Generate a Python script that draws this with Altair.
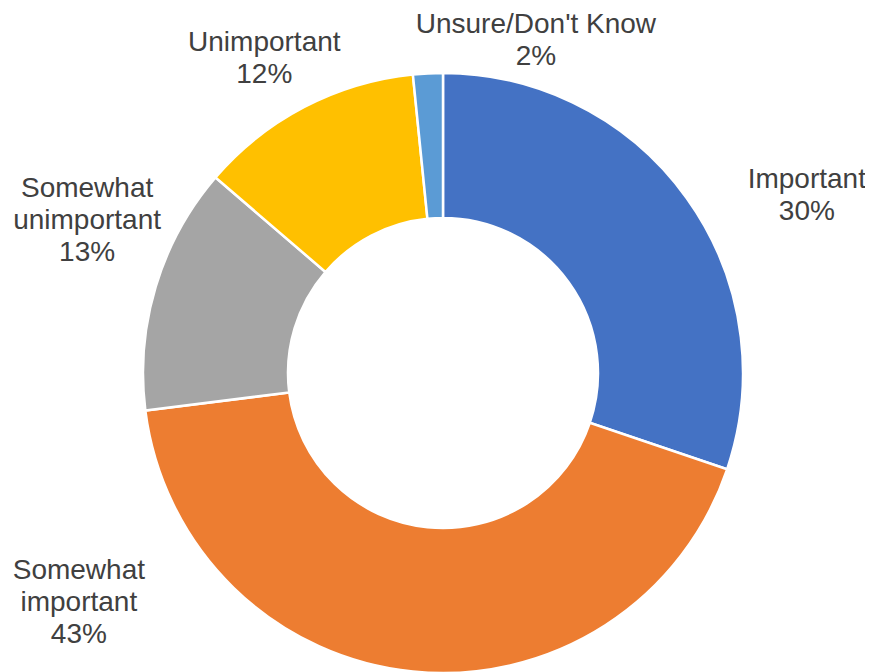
import altair as alt
import pandas as pd

# Data
categories = ["Important", "Somewhat important", "Somewhat unimportant",
              "Unimportant", "Unsure/Don't Know"]
shares = [30.2, 42.8, 13.3, 12.1, 1.6]
label_names = ["Important", "Somewhat\nimportant", "Somewhat\nunimportant",
               "Unimportant", "Unsure/Don't Know"]
label_pcts = ["30%", "43%", "13%", "12%", "2%"]
colors = ["#4472C4", "#ED7D31", "#A5A5A5", "#FFC000", "#5B9BD5"]

# label nudges (px) away from the slice-midpoint anchor, like Excel's best-fit labels
nudge_x = [55, -326, 8, -3, 112]
nudge_y = [28, -180, -75, 7, 32]

df = pd.DataFrame({
    "category": categories,
    "share": shares,
    "order": list(range(len(categories))),
    "label": [f"{n}\n{p}" for n, p in zip(label_names, label_pcts)],
    "nx": nudge_x,
    "ny": nudge_y,
})

CX, CY = 435, 365

base = alt.Chart(df).encode(
    theta=alt.Theta("share:Q", stack=True),
    order=alt.Order("order:Q"),
)

arc = base.mark_arc(
    outerRadius=300, innerRadius=155, stroke="white", strokeWidth=2.5
).encode(
    color=alt.Color("category:N",
                    scale=alt.Scale(domain=categories, range=colors),
                    legend=None),
    x=alt.value(CX),
    y=alt.value(CY),
)

text = base.mark_text(
    radius=380,
    fontSize=28,
    font="Liberation Sans",
    color="#404040",
    lineBreak="\n",
    lineHeight=32,
    align="center",
    baseline="middle",
    dx=alt.ExprRef(expr="datum.nx"),
    dy=alt.ExprRef(expr="datum.ny"),
).encode(
    text="label:N",
    x=alt.value(CX),
    y=alt.value(CY),
)

chart = alt.layer(arc, text).properties(
    width=857, height=664, padding=0,
    autosize=alt.AutoSizeParams(type="none"),
    background="white",
).configure_view(stroke=None)

chart.save("out.html", embed_options={"renderer": "svg", "actions": False})
